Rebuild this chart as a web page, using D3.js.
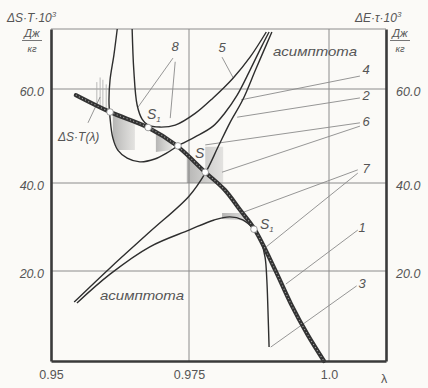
<!DOCTYPE html>
<html>
<head>
<meta charset="utf-8">
<script src="https://cdn.jsdelivr.net/npm/d3@7/dist/d3.min.js"></script>
<style>
  body { margin: 0; background: #fbfaf7; }
  svg { display: block; }
  text { font-family: "Liberation Sans", Arial, sans-serif; fill: #555; }
</style>
</head>
<body>
<div id="chart"></div>
<script>
// ---- data (λ, value) ----
const xTicks = [0.95, 0.975, 1.0];
const xTickLabels = ['0.95', '0.975', '1.0'];
const yTicks = [20, 40, 60];
const yTickLabels = ['20.0', '40.0', '60.0'];
const lambdaBreaks = [0.95, 0.975, 1.0, 1.0105];
const valueBreaks = [0, 20, 40, 60, 73];

// thick line ΔS·T(λ)
const mainLine = [[0.9545, 58.7], [0.9607, 55.1], [0.9676, 51.8], [0.9726, 48.1], [0.9779, 42.3],
  [0.9814, 38.4], [0.9841, 33.9], [0.9868, 29.3], [0.9904, 20.2], [0.9932, 12.7], [0.9962, 5.8], [0.9991, 0]];
// asymptote through S
const asymptote = [[0.9542, 13.1], [0.9607, 20.7], [0.9679, 28.9], [0.9750, 37.0], [0.9779, 42.1],
  [0.9802, 47.7], [0.9823, 52.8], [0.9846, 57.7], [0.9870, 64.5], [0.9898, 72.35]];
const lowerCurve = [[0.9547, 12.9], [0.9607, 19.3], [0.9679, 25.5], [0.9750, 29.3], [0.9795, 31.6],
  [0.9823, 32.3], [0.9846, 31.6], [0.9868, 29.3]];
const curve3 = [[0.9868, 29.3], [0.9879, 26.6], [0.9886, 23.0], [0.9889, 18.0], [0.9891, 11.3], [0.9893, 3.1]];
const curve5 = [[0.9647, 73.0], [0.9650, 64.1], [0.9656, 56.6], [0.9665, 53.6], [0.9676, 52.3], [0.9697, 51.9],
  [0.9725, 52.3], [0.9761, 54.8], [0.9793, 58.1], [0.9829, 62.4], [0.9859, 66.9], [0.9888, 72.35]];
const uCurve = [[0.9620, 73.0], [0.9614, 67.4], [0.9607, 62.0], [0.9605, 57.7], [0.9607, 53.8], [0.9612, 49.6],
  [0.9621, 47.0], [0.9638, 45.3], [0.9661, 44.5], [0.9688, 45.1], [0.9710, 46.4], [0.9730, 47.9],
  [0.9761, 49.8], [0.9793, 52.1], [0.9814, 54.9], [0.9836, 58.7], [0.9859, 64.1], [0.9880, 69.3], [0.9893, 72.35]];

// shaded zones
const shadeU = [[0.9612, 54.4], [0.9652, 53.0], [0.9652, 47.0], [0.9621, 47.0], [0.9612, 49.6]];
const shadeS1 = [[0.9690, 51.1], [0.9719, 49.1], [0.9719, 47.0], [0.9690, 46.6]];
const shadeS = [[0.9746, 45.7], [0.9779, 42.3], [0.9779, 47.7], [0.9811, 47.7], [0.9811, 40], [0.9746, 40]];
const shadeLow = [[0.9809, 33.2], [0.9841, 33.2], [0.9859, 30.7], [0.9841, 31.6], [0.9809, 31.8]];
const hatchLambda = [0.9583, 0.9589, 0.9594, 0.9600];
const hatchTop = [61.5, 62.5, 62.0, 61.0];

// S points
const sPoints = [[0.9607, 55.1], [0.9676, 51.8], [0.9730, 47.9], [0.9779, 42.3], [0.9866, 29.5]];

// leader lines for the numbered labels
const leaders = [
  [[0.9721, 66.7], [0.9658, 56.2]],  // 8
  [[0.9725, 65.9], [0.9716, 53.8]],  // 8
  [[0.9809, 66.9], [0.9829, 62.4]],  // 5
  [[1.0057, 62.8], [0.9843, 57.7]],  // 4
  [[1.0057, 58.1], [0.9836, 54.0]],  // 2
  [[1.0057, 52.8], [0.9779, 48.1]],  // 6
  [[1.0057, 52.1], [0.9809, 42.3]],  // 6
  [[1.0053, 42.8], [0.9848, 33.4]],  // 7
  [[1.0053, 42.1], [0.9888, 25.5]],  // 7
  [[1.0053, 29.3], [0.9923, 17.1]],  // 1
  [[1.0051, 16.7], [0.9896, 3.1]],   // 3
  [[0.9567, 52.8], [0.9589, 58.3]]   // ΔS·T(λ)
];

// ---- layout ----
const width = 428, height = 388;
const x = d3.scaleLinear(lambdaBreaks, [51, 189, 329, 386]);
const y = d3.scaleLinear(valueBreaks, [361, 271, 183, 89, 29]);

const svg = d3.select('#chart').append('svg')
  .attr('width', width).attr('height', height);

const line = d3.line().x(d => x(d[0])).y(d => y(d[1])).curve(d3.curveCatmullRom.alpha(0.5));
const poly = d3.line().x(d => x(d[0])).y(d => y(d[1]));

// soft shading gradient
const grad = svg.append('defs').append('linearGradient').attr('id', 'shade')
  .attr('x1', 0).attr('x2', 1).attr('y1', 0).attr('y2', 0);
grad.append('stop').attr('offset', '0%').attr('stop-color', '#7d7d7d').attr('stop-opacity', 0.55);
grad.append('stop').attr('offset', '100%').attr('stop-color', '#9a9a9a').attr('stop-opacity', 0.25);

// grid
const gGrid = svg.append('g').attr('stroke', '#8c8c8c').attr('stroke-width', 1);
gGrid.selectAll('.h').data([...yTicks, 73]).join('line')
  .attr('x1', x(0.95)).attr('x2', x(1.0105)).attr('y1', d => y(d)).attr('y2', d => y(d));
gGrid.selectAll('.v').data(xTicks.slice(1)).join('line')
  .attr('y1', y(0)).attr('y2', y(73)).attr('x1', d => x(d)).attr('x2', d => x(d));

// shaded zones
svg.append('g').attr('fill', 'url(#shade)')
  .selectAll('path').data([shadeU, shadeS1, shadeS, shadeLow]).join('path')
  .attr('d', d => poly(d) + 'Z');

// hatch near the start of ΔS·T
const mainAt = l => {
  const i = d3.bisector(d => d[0]).right(mainLine, l) - 1;
  const a = mainLine[Math.max(0, i)], b = mainLine[Math.min(mainLine.length - 1, i + 1)];
  const t = b[0] === a[0] ? 0 : (l - a[0]) / (b[0] - a[0]);
  return a[1] + t * (b[1] - a[1]);
};
svg.append('g').attr('stroke', '#aaa').attr('stroke-width', 0.8)
  .selectAll('line').data(hatchLambda).join('line')
  .attr('x1', d => x(d)).attr('x2', d => x(d))
  .attr('y1', (d, i) => y(hatchTop[i])).attr('y2', d => y(mainAt(d)));

// leaders
svg.append('g').attr('stroke', '#8a8a8a').attr('stroke-width', 0.9)
  .selectAll('line').data(leaders).join('line')
  .attr('x1', d => x(d[0][0])).attr('y1', d => y(d[0][1]))
  .attr('x2', d => x(d[1][0])).attr('y2', d => y(d[1][1]));

// thin curves
svg.append('g').attr('fill', 'none').attr('stroke', '#2e2e2e').attr('stroke-width', 1.4)
  .selectAll('path').data([asymptote, lowerCurve, curve3, curve5, uCurve]).join('path')
  .attr('d', line);

// thick ΔS·T(λ)
svg.append('path').attr('d', line(mainLine)).attr('fill', 'none')
  .attr('stroke', '#333').attr('stroke-width', 4.2).attr('stroke-linecap', 'round');
svg.append('path').attr('d', line(mainLine)).attr('fill', 'none')
  .attr('stroke', '#aaa').attr('stroke-width', 1.1).attr('stroke-dasharray', '1,2.5');

// S points
svg.append('g').selectAll('circle').data(sPoints).join('circle')
  .attr('cx', d => x(d[0])).attr('cy', d => y(d[1])).attr('r', 3.3)
  .attr('fill', '#fff').attr('stroke', '#888').attr('stroke-width', 0.8);

// axes (left, right, bottom) via d3 axes
const yAxisL = svg.append('g').attr('transform', `translate(${x(0.95)},0)`)
  .call(d3.axisLeft(y).tickValues(yTicks).tickSize(0).tickPadding(7)
    .tickFormat((d, i) => yTickLabels[i]));
const yAxisR = svg.append('g').attr('transform', `translate(${x(1.0105)},0)`)
  .call(d3.axisRight(y).tickValues(yTicks).tickSize(0).tickPadding(10)
    .tickFormat((d, i) => yTickLabels[i]));
const xAxis = svg.append('g').attr('transform', `translate(0,${y(0)})`)
  .call(d3.axisBottom(x).tickValues(xTicks).tickSize(0).tickPadding(9)
    .tickFormat((d, i) => xTickLabels[i]));
[yAxisL, yAxisR, xAxis].forEach(g => {
  g.select('.domain').attr('stroke', '#3a3a3a').attr('stroke-width', 2.6);
  g.selectAll('text').attr('font-size', 12.5).attr('fill', '#555')
    .attr('font-family', '"Liberation Sans", Arial, sans-serif');
});
yAxisL.selectAll('text').attr('font-style', 'italic').attr('dy', '0.55em');
yAxisR.selectAll('text').attr('font-style', 'italic').attr('dy', '0.55em');
xAxis.append('text').attr('x', 384).attr('y', 22).attr('fill', '#555')
  .attr('font-size', 12.5).text('λ');

// axis titles
function title(tx, main, unitX) {
  const t = svg.append('text').attr('x', tx).attr('y', 22).attr('font-size', 12).attr('font-style', 'italic');
  t.append('tspan').text(main);
  t.append('tspan').attr('dy', -5).attr('font-size', 8).text('3');
  svg.append('text').attr('x', unitX).attr('y', 37).attr('text-anchor', 'middle')
    .attr('font-size', 11).attr('font-style', 'italic').text('Дж');
  svg.append('line').attr('x1', unitX - 10).attr('x2', unitX + 10).attr('y1', 40.5).attr('y2', 40.5)
    .attr('stroke', '#666').attr('stroke-width', 0.9);
  svg.append('text').attr('x', unitX).attr('y', 52).attr('text-anchor', 'middle')
    .attr('font-size', 9.5).attr('font-style', 'italic').text('кг');
}
title(7, 'ΔS·T·10', 32);
title(355, 'ΔE·τ·10', 400);

// annotations
const notes = [
  { t: '8', x: 175, y: 51 }, { t: '5', x: 222, y: 52 }, { t: '4', x: 366, y: 74 },
  { t: '2', x: 366, y: 100 }, { t: '6', x: 366, y: 126 }, { t: '7', x: 366, y: 173 },
  { t: '1', x: 362, y: 232 }, { t: '3', x: 362, y: 288 }
];
svg.append('g').selectAll('text').data(notes).join('text')
  .attr('x', d => d.x).attr('y', d => d.y).attr('text-anchor', 'middle')
  .attr('font-size', 13).attr('font-style', 'italic').text(d => d.t);

function sLabel(sx, sy, sub) {
  const t = svg.append('text').attr('x', sx).attr('y', sy).attr('font-size', 14).attr('font-style', 'italic');
  t.append('tspan').text('S');
  if (sub) t.append('tspan').attr('dy', 3).attr('font-size', 8).text(sub);
}
sLabel(147, 119, '1');
sLabel(195, 158, '');
sLabel(260, 229, '1');

svg.append('text').attr('x', 58).attr('y', 141).attr('font-size', 12).attr('font-style', 'italic').text('ΔS·T(λ)');
svg.append('text').attr('x', 100).attr('y', 300).attr('font-size', 13).attr('font-style', 'italic')
  .attr('textLength', 84).attr('lengthAdjust', 'spacingAndGlyphs').text('асимптота');
svg.append('text').attr('x', 273).attr('y', 56).attr('font-size', 13).attr('font-style', 'italic')
  .attr('textLength', 84).attr('lengthAdjust', 'spacingAndGlyphs').text('асимптота');
</script>
</body>
</html>
